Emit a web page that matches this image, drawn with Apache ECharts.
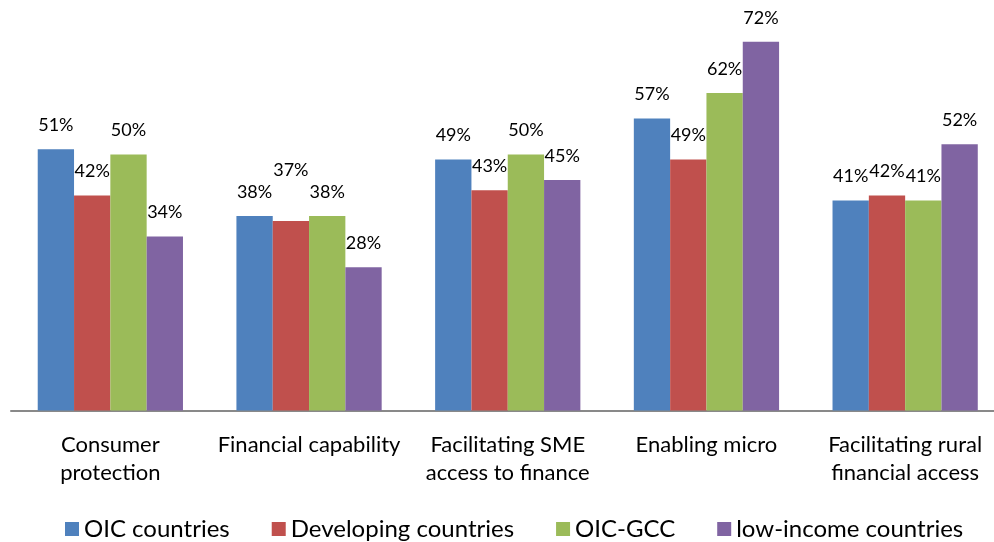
<!DOCTYPE html>
<html>
<head>
<meta charset="utf-8">
<script src="https://cdn.jsdelivr.net/npm/echarts@6/dist/echarts.min.js"></script>
<style>
html,body{margin:0;padding:0;background:#fff;}
#chart{width:994px;height:542px;}
</style>
</head>
<body>
<div id="chart"></div>
<script>
const categories = ["Consumer\nprotection", "Financial capability", "Facilitating SME\naccess to finance", "Enabling micro", "Facilitating rural\nfinancial access"];
const seriesNames = ["OIC countries", "Developing countries", "OIC-GCC", "low-income countries"];
const oicCountries = [51, 38, 49, 57, 41];
const developingCountries = [42, 37, 43, 49, 42];
const oicGcc = [50, 38, 50, 62, 41];
const lowIncomeCountries = [34, 28, 45, 72, 52];

const colors = ["#4F81BD", "#C0504D", "#9BBB59", "#8064A2"];
const FONT = "Lato";
const allValues = [oicCountries, developingCountries, oicGcc, lowIncomeCountries];

const chart = echarts.init(document.getElementById('chart'), null, {renderer: 'canvas'});

const series = allValues.map((vals, s) => ({
  name: seriesNames[s],
  type: 'bar',
  barGap: '0%',
  barCategoryGap: '26.9%',
  itemStyle: {color: colors[s]},
  label: {
    show: true,
    position: 'top',
    distance: 15,
    formatter: '{c}%',
    color: '#000',
    fontFamily: FONT,
    fontSize: 18
  },
  data: vals.map((v, i) => {
    // the "Developing countries" label over "Financial capability" is raised in the original
    if (s === 1 && i === 1) return {value: v, label: {offset: [0, -27]}};
    return v;
  })
}));

chart.setOption({
  animation: false,
  backgroundColor: '#fff',
  textStyle: {fontFamily: FONT},
  grid: {left: 11, top: 0.7, width: 993.5, height: 409.9, containLabel: false, outerBoundsMode: 'none'},
  legend: {
    data: seriesNames,
    left: 65,
    top: 517,
    padding: 0,
    icon: 'rect',
    itemWidth: 14,
    itemHeight: 14,
    itemGap: 42,
    textStyle: {fontFamily: FONT, fontSize: 24, color: '#000'}
  },
  xAxis: {
    type: 'category',
    data: categories,
    axisLine: {show: true, lineStyle: {color: '#898989', width: 2}},
    axisTick: {show: false},
    axisLabel: {interval: 0, margin: 20, lineHeight: 28, fontSize: 22, color: '#000', fontFamily: FONT}
  },
  yAxis: {
    type: 'value',
    min: 0,
    max: 80,
    show: false,
    splitLine: {show: false}
  },
  series: series
});
</script>
</body>
</html>
